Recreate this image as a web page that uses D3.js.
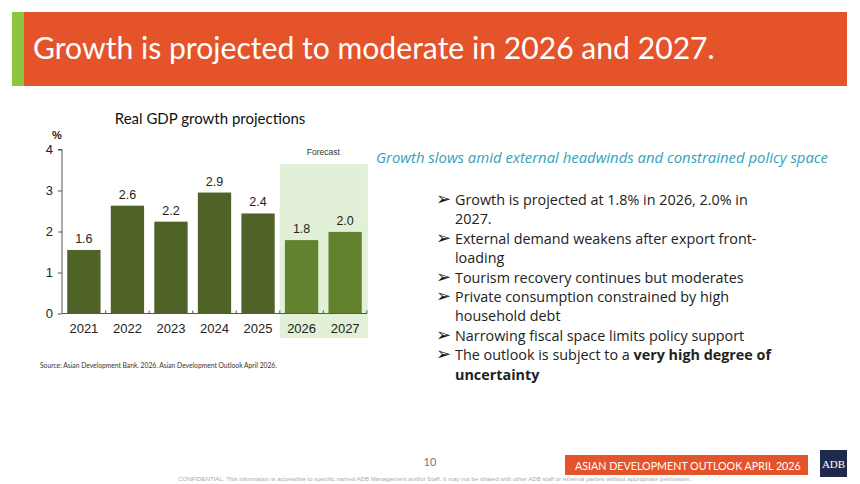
<!DOCTYPE html>
<html><head><meta charset="utf-8">
<script src="https://cdn.jsdelivr.net/npm/d3@7"></script>
<style>html,body{margin:0;padding:0;background:#fff;}svg{display:block;}</style>
</head><body>
<script>
// ---- data ----
const years = ["2021","2022","2023","2024","2025","2026","2027"];
const growth = [1.55, 2.63, 2.24, 2.95, 2.44, 1.79, 1.99];
const growthLabels = ["1.6","2.6","2.2","2.9","2.4","1.8","2.0"];
const forecastYears = ["2026","2027"];
const yTicks = [0,1,2,3,4];
const bullets = [
  ["Growth is projected at 1.8% in 2026, 2.0% in", "2027."],
  ["External demand weakens after export front-", "loading"],
  ["Tourism recovery continues but moderates"],
  ["Private consumption constrained by high", "household debt"],
  ["Narrowing fiscal space limits policy support"],
  ["The outlook is subject to a |very high degree of", "|uncertainty"]
];

const W = 860, H = 484;
const svg = d3.select("body").append("svg").attr("width", W).attr("height", H);
svg.append("rect").attr("width", W).attr("height", H).attr("fill", "#fff");

function fit(sel, target) {
  const n = sel.node(); const w = n.getComputedTextLength();
  const fs = parseFloat(sel.attr("font-size"));
  if (w > 0) sel.attr("font-size", (fs * target / w).toFixed(2));
  return sel;
}

// ---- header ----
svg.append("rect").attr("x", 12).attr("y", 12).attr("width", 835).attr("height", 74).attr("fill", "#e5532b");
svg.append("rect").attr("x", 12).attr("y", 12).attr("width", 12).attr("height", 74).attr("fill", "#8cc53f");
fit(svg.append("text").attr("x", 33).attr("y", 59).attr("fill", "#fff")
  .attr("font-family", "Lato, 'Open Sans', sans-serif").attr("font-size", 30)
  .text("Growth is projected to moderate in 2026 and 2027."), 682);

// ---- chart ----
const x = d3.scaleBand().domain(years).range([62, 367]).paddingInner(0.235).paddingOuter(0.12);
const y = d3.scaleLinear().domain([0, 4]).range([313.5, 149.5]);

const fx0 = x(forecastYears[0]) - x.step() * x.paddingInner() / 2;
const fx1 = x(forecastYears[forecastYears.length - 1]) + x.bandwidth() + x.step() * x.paddingInner() / 2;
svg.append("rect").attr("x", fx0).attr("y", 164).attr("width", fx1 - fx0 + 1).attr("height", 174)
  .attr("fill", "#e3f0d8");
svg.append("text").attr("x", (fx0 + fx1) / 2).attr("y", 155).attr("text-anchor", "middle")
  .attr("font-family", "'Liberation Sans', Arial, sans-serif").attr("font-size", 8.5).attr("fill", "#333")
  .text("Forecast");

const chartFont = "'Liberation Sans', Arial, sans-serif";
svg.append("text").attr("x", 210).attr("y", 124).attr("text-anchor", "middle")
  .attr("font-family", "Lato, 'Open Sans', sans-serif").attr("font-size", 15).attr("fill", "#111")
  .text("Real GDP growth projections");
svg.append("text").attr("x", 52).attr("y", 139)
  .attr("font-family", chartFont).attr("font-size", 11).attr("font-weight", "bold").attr("fill", "#222").text("%");

svg.selectAll(".bar").data(years).enter().append("rect")
  .attr("x", d => x(d)).attr("width", x.bandwidth())
  .attr("y", (d, i) => y(growth[i])).attr("height", (d, i) => y(0) - y(growth[i]))
  .attr("fill", d => forecastYears.includes(d) ? "#62822f" : "#4f6227");
svg.selectAll(".lbl").data(years).enter().append("text")
  .attr("x", d => x(d) + x.bandwidth() / 2).attr("y", (d, i) => y(growth[i]) - 7)
  .attr("text-anchor", "middle").attr("font-family", chartFont).attr("font-size", 12.5).attr("fill", "#222")
  .text((d, i) => growthLabels[i]);

const yAxis = svg.append("g").attr("transform", "translate(62,0)")
  .call(d3.axisLeft(y).tickValues(yTicks).tickSize(4).tickFormat(d3.format("d")));
yAxis.select(".domain").attr("stroke", "#555").attr("d", `M-4,${y(4)}H0V${y(0)}`);
yAxis.selectAll(".tick line").attr("stroke", "#555");
yAxis.selectAll(".tick text").attr("font-family", chartFont).attr("font-size", 13).attr("fill", "#222").attr("x", -9);

const xAxis = svg.append("g").attr("transform", `translate(0,${y(0)})`)
  .call(d3.axisBottom(x).tickSize(0).tickPadding(10));
xAxis.select(".domain").attr("stroke", "#555").attr("d", `M62,0H367`);
xAxis.selectAll(".tick text").attr("font-family", chartFont).attr("font-size", 13).attr("fill", "#222");
// small boundary ticks between categories
svg.selectAll(".bt").data(years).enter().append("line")
  .attr("x1", d => x(d) + x.bandwidth() + x.step() * x.paddingInner() / 2)
  .attr("x2", d => x(d) + x.bandwidth() + x.step() * x.paddingInner() / 2)
  .attr("y1", y(0)).attr("y2", y(0) - 3).attr("stroke", "#555");

fit(svg.append("text").attr("x", 40).attr("y", 368).attr("fill", "#333")
  .attr("font-family", "Lato, sans-serif").attr("font-size", 6)
  .text("Source: Asian Development Bank. 2026. Asian Development Outlook April 2026."), 237);

// ---- right text ----
fit(svg.append("text").attr("x", 376).attr("y", 163).attr("fill", "#2fa3bd")
  .attr("font-family", "'Open Sans', sans-serif").attr("font-style", "italic").attr("font-size", 14)
  .text("Growth slows amid external headwinds and constrained policy space"), 452);

const bfont = "'Open Sans', 'Noto Sans', sans-serif";
const probe = svg.append("text").attr("font-family", bfont).attr("font-size", 14).text(bullets[0][0]);
const fsB = 14 * 293 / probe.node().getComputedTextLength(); probe.remove();
let lineY = 205;
const lh = 19.4;
bullets.forEach(b => {
  svg.append("text").attr("x", 436).attr("y", lineY).attr("font-family", "'DejaVu Sans', sans-serif")
    .attr("font-size", 18).attr("fill", "#111").text("\u27A2");
  b.forEach(line => {
    const t = svg.append("text").attr("x", 455).attr("y", lineY).attr("font-family", bfont)
      .attr("font-size", fsB).attr("fill", "#222");
    const parts = line.split("|");
    t.append("tspan").text(parts[0]);
    if (parts.length > 1) t.append("tspan").attr("font-weight", "bold").text(parts[1]);
    lineY += lh;
  });
});

// ---- footer ----
svg.append("text").attr("x", 430).attr("y", 466).attr("text-anchor", "middle").attr("fill", "#777")
  .attr("font-family", "Lato, sans-serif").attr("font-size", 11).text("10");
svg.append("rect").attr("x", 565).attr("y", 455).attr("width", 243).attr("height", 20).attr("fill", "#e5532b");
fit(svg.append("text").attr("x", 575).attr("y", 470).attr("fill", "#fff")
  .attr("font-family", "Lato, sans-serif").attr("font-size", 10)
  .text("ASIAN DEVELOPMENT OUTLOOK APRIL 2026"), 226);
svg.append("rect").attr("x", 820).attr("y", 450).attr("width", 27).attr("height", 27).attr("fill", "#1f2a4d");
svg.append("text").attr("x", 833.5).attr("y", 468).attr("text-anchor", "middle").attr("fill", "#fff")
  .attr("font-family", "'Liberation Serif', serif").attr("font-size", 11).text("ADB");
fit(svg.append("text").attr("x", 178).attr("y", 481).attr("fill", "#aaa")
  .attr("font-family", "'Liberation Sans', sans-serif").attr("font-size", 5)
  .text("CONFIDENTIAL. This information is accessible to specific named ADB Management and/or Staff. It may not be shared with other ADB staff or external parties without appropriate permission."), 514);
</script>
</body></html>
